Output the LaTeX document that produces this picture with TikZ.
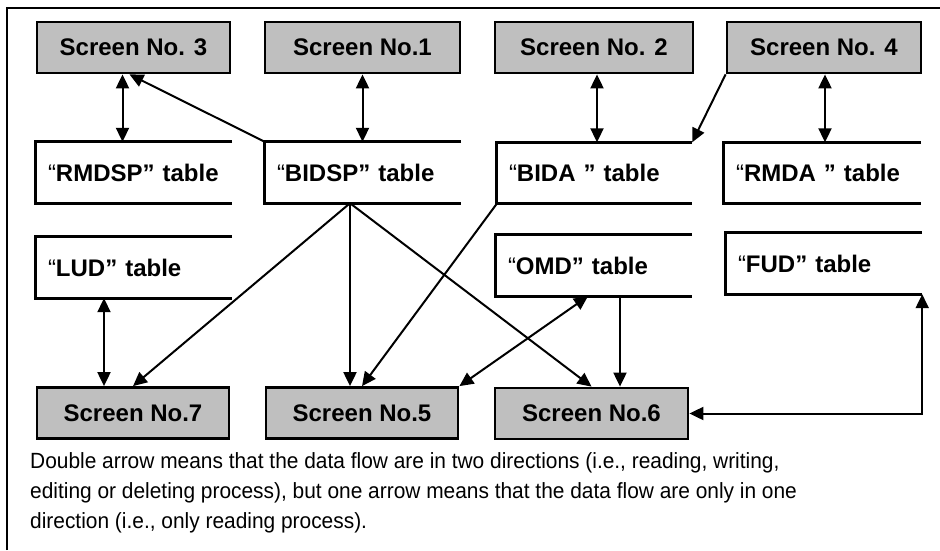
\documentclass[tikz,border=0pt]{standalone}
\usepackage{fontspec}
\setmainfont{Liberation Sans}
\newfontfamily\capfont[FakeStretch=0.95]{Liberation Sans}
\usetikzlibrary{arrows.meta,calc}
\begin{document}
\begin{tikzpicture}[x=1pt,y=-1pt,
  screen/.style={draw=black,line width=2.8pt,fill=gray!50,minimum height=51pt,inner sep=0pt,font=\fontsize{24}{26}\selectfont\bfseries},
  tbl/.style={inner xsep=12pt,inner ysep=0pt,minimum height=61pt,text width=172pt,align=left,font=\fontsize{24}{26}\selectfont\bfseries},
  tblline/.style={line width=2.8pt},
  sgl/.style={line width=2pt,-{Triangle[length=14pt,width=13pt]}},
  dbl/.style={line width=2pt,{Triangle[length=14pt,width=13pt]}-{Triangle[length=14pt,width=13pt]}},
  frame/.style={line width=2pt}]
\useasboundingbox (0,0) rectangle (940,550);
\draw[frame] (7,550) -- (7,8) -- (940,8);
% screens
\node[screen,minimum width=193pt] (S3) at (133.5,47.5) {Screen No. 3};
\node[screen,minimum width=195pt] (S1) at (362.5,47.5) {Screen No.1};
\node[screen,minimum width=198pt] (S2) at (594,47.5) {Screen No. 2};
\node[screen,minimum width=194pt] (S4) at (824,47.5) {Screen No. 4};
\node[screen,minimum width=192pt] (S7) at (133,413) {Screen No.7};
\node[screen,minimum width=192pt] (S5) at (362,413) {Screen No.5};
\node[screen,minimum width=193pt] (S6) at (591.5,413.5) {Screen No.6};
% tables
\node[tbl] (RMDSP) at (134,172.5) {{\mdseries“}RMDSP” table};
\node[tbl] (BIDSP) at (363,172.5) {{\mdseries“}BIDSP” table};
\node[tbl,text width=171pt] (BIDA) at (594.5,173) {{\mdseries“}BIDA ” table};
\node[tbl,text width=173pt] (RMDA) at (822.5,173) {{\mdseries“}RMDA ” table};
\node[tbl] (LUD) at (134,267.5) {{\mdseries“}LUD” table};
\node[tbl] (OMD) at (594,265.5) {{\mdseries“}OMD” table};
\node[tbl] (FUD) at (824,263.5) {{\mdseries“}FUD” table};
\foreach \t in {RMDSP,BIDSP,BIDA,RMDA,LUD,OMD,FUD}
  \draw[tblline] (\t.north east) -- (\t.north west) -- (\t.south west) -- (\t.south east);
% connectors
\draw[dbl] ([xshift=-11pt]S3.south) -- ([xshift=-11pt]S3.south |- RMDSP.north);
\draw[sgl] (BIDSP.north west) -- ([xshift=-4pt]S3.south);
\draw[dbl] (S1.south) -- (S1.south |- BIDSP.north);
\draw[dbl] ([xshift=3pt]S2.south) -- ([xshift=3pt]S2.south |- BIDA.north);
\draw[sgl] (S4.south west) -- (BIDA.north east);
\draw[dbl] ([xshift=1pt]S4.south) -- ([xshift=1pt]S4.south |- RMDA.north);
\coordinate (bs) at ([xshift=-13pt]BIDSP.south);
\draw[sgl] (bs) -- (S7.north);
\draw[sgl] (bs) -- (bs |- S5.north);
\draw[sgl] (bs) -- (S6.north);
\draw[sgl] (BIDA.south west) -- (S5.north);
\draw[dbl] (S5.north east) -- ([xshift=-6pt]OMD.south);
\draw[sgl] ([xshift=26pt]OMD.south) -- ([xshift=26pt]OMD.south |- S6.north);
\draw[dbl] ([xshift=-30pt]LUD.south) -- ([xshift=-30pt]LUD.south |- S7.north);
\draw[dbl] (S6.east) -| (FUD.south east);
% caption
\node[anchor=base west,align=left,inner sep=0pt,font=\capfont\fontsize{22}{30}\selectfont] (cap) at (30,528)
  {Double arrow means that the data flow are in two directions (i.e., reading, writing,\\
   editing or deleting process), but one arrow means that the data flow are only in one\\
   direction (i.e., only reading process).};
\end{tikzpicture}
\end{document}
